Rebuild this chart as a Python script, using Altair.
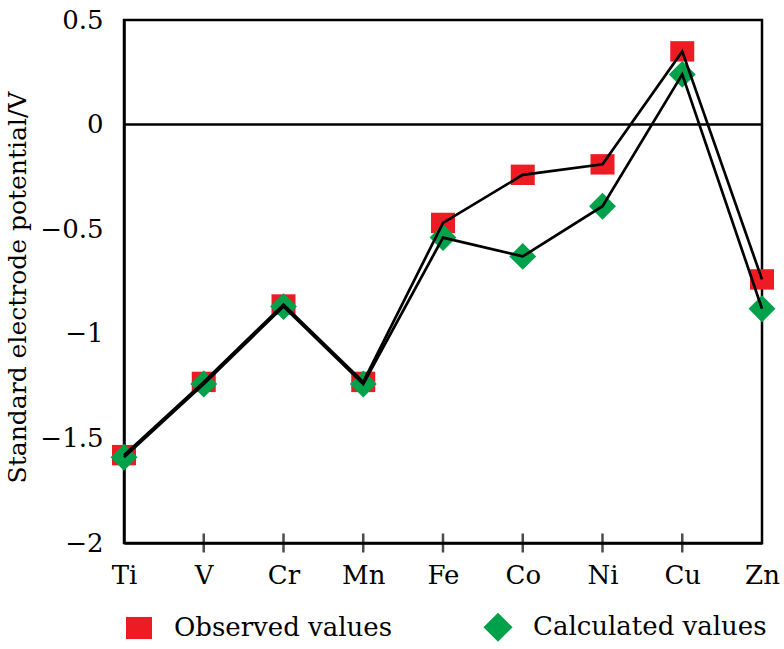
import altair as alt
import pandas as pd

# Standard electrode potentials (M2+/M) across the first transition series
elements = ["Ti", "V", "Cr", "Mn", "Fe", "Co", "Ni", "Cu", "Zn"]
observed = [-1.58, -1.23, -0.86, -1.23, -0.47, -0.24, -0.19, 0.35, -0.74]
calculated = [-1.59, -1.24, -0.87, -1.24, -0.54, -0.63, -0.39, 0.24, -0.88]
series_names = ["Observed values", "Calculated values"]
series_colors = ["#ED1C24", "#00A14B"]
# slightly wide rectangle for observed values, enlarged diamond for calculated ones
series_shapes = ["M-1,-0.85H1V0.85H-1Z", "M-1.12,0L0,-1.12L1.12,0L0,1.12Z"]
y_ticks = [0.5, 0, -0.5, -1, -1.5, -2]

FONT = "DejaVu Serif"

rows = []
for name, vals in zip(series_names, [observed, calculated]):
    for el, v in zip(elements, vals):
        rows.append({"element": el, "potential": v, "series": name})
df = pd.DataFrame(rows)

tick_df = pd.DataFrame({"element": elements[1:-1]})

x_enc = alt.X(
    "element:N",
    sort=elements,
    scale=alt.Scale(type="point", domain=elements, padding=0),
    axis=alt.Axis(
        title=None,
        ticks=False,
        labelPadding=19,
        labelFontSize=26,
        labelFont=FONT,
        labelColor="black",
        domainColor="black",
        domainWidth=2.5,
        labelAngle=0,
    ),
)
y_enc = alt.Y(
    "potential:Q",
    scale=alt.Scale(domain=[-2, 0.5], nice=False, zero=False),
    axis=alt.Axis(
        title="Standard electrode potential/V",
        values=y_ticks,
        format="~g",
        ticks=False,
        grid=False,
        labelPadding=21,
        labelFontSize=26,
        labelFont=FONT,
        labelColor="black",
        domainColor="black",
        domainWidth=2.5,
        titleFont=FONT,
        titleFontSize=25,
        titleFontWeight="normal",
        titleColor="black",
        titleX=-99,
        titleY=267,
        titleBaseline="alphabetic",
    ),
)

base = alt.Chart(df)

zero_rule = alt.Chart(pd.DataFrame({"v": [0]})).mark_rule(
    color="black", strokeWidth=2.5
).encode(y=alt.Y("v:Q", scale=alt.Scale(domain=[-2, 0.5], nice=False)))

points = base.mark_point(filled=True, opacity=1, size=576, strokeWidth=0).encode(
    x=x_enc,
    y=y_enc,
    color=alt.Color(
        "series:N",
        scale=alt.Scale(domain=series_names, range=series_colors),
        legend=alt.Legend(
            title=None,
            orient="none",
            direction="horizontal",
            columns=2,
            legendX=2,
            legendY=594,
            padding=0,
            symbolSize=676,
            symbolStrokeWidth=0,
            symbolOpacity=1,
            labelFont=FONT,
            labelFontSize=26,
            labelColor="black",
            labelOffset=22,
            labelLimit=0,
            columnPadding=90,
        ),
    ),
    shape=alt.Shape(
        "series:N",
        scale=alt.Scale(domain=series_names, range=series_shapes),
    ),
    order=alt.Order("series:N", sort="descending"),
)

lines = base.mark_line(color="black", strokeWidth=2.7).encode(
    x=x_enc,
    y=y_enc,
    detail="series:N",
)

ticks = alt.Chart(tick_df).mark_tick(
    orient="vertical", color="black", size=19, thickness=2.5
).encode(
    x=alt.X("element:N", sort=elements, scale=alt.Scale(type="point", domain=elements, padding=0)),
    y=alt.datum(-2),
)

chart = (
    alt.layer(zero_rule, points, lines, ticks)
    .properties(
        width=638,
        height=523,
        autosize=alt.AutoSizeParams(type="none"),
        padding={"left": 124, "top": 20, "right": 22, "bottom": 106},
        background="white",
    )
    .configure_view(stroke="black", strokeWidth=2.5)
)

chart.save("out.html", embed_options={"renderer": "svg", "actions": False})
